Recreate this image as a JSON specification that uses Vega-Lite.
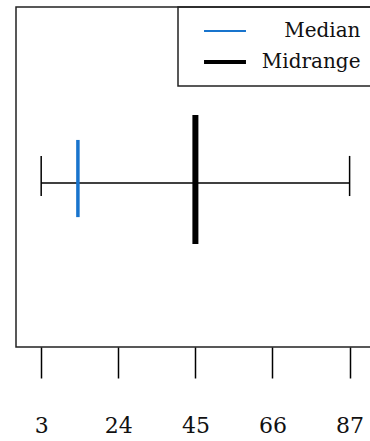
{
  "$schema": "https://vega.github.io/schema/vega-lite/v6.json",
  "width": 356,
  "height": 340,
  "autosize": {"type": "none"},
  "padding": {"left": 16, "top": 7, "right": -2, "bottom": 94},
  "background": "white",
  "config": {
    "view": {"stroke": "#222", "strokeWidth": 1.5},
    "font": "DejaVu Serif",
    "legend": {"strokeColor": "#222", "strokeWidth": 1.5}
  },
  "data": {"values": [{"Min": 3, "Max": 87, "Median": 13, "Midrange": 45}]},
  "layer": [
    {
      "mark": {"type": "rule", "color": "black", "strokeWidth": 1.5},
      "encoding": {
        "x": {
          "field": "Min", "type": "quantitative",
          "scale": {"domain": [-3.86, 93.1], "nice": false, "zero": false},
          "axis": {
            "values": [3, 24, 45, 66, 87], "title": null, "domain": false, "grid": false,
            "ticks": true, "tickSize": 31, "tickColor": "black", "tickWidth": 1.5,
            "labelFont": "DejaVu Serif", "labelFontSize": 22, "labelColor": "#111",
            "labelPadding": 37, "labelFlush": false, "labelOverlap": false, "labelBound": false
          }
        },
        "x2": {"field": "Max"},
        "y": {"datum": 0.482, "type": "quantitative", "scale": {"domain": [0, 1], "nice": false, "zero": false}, "axis": null}
      }
    },
    {
      "mark": {"type": "rule", "color": "black", "strokeWidth": 1.5},
      "encoding": {
        "x": {"field": "Min", "type": "quantitative"},
        "y": {"datum": 0.444, "type": "quantitative"},
        "y2": {"datum": 0.562}
      }
    },
    {
      "mark": {"type": "rule", "color": "black", "strokeWidth": 1.5},
      "encoding": {
        "x": {"field": "Max", "type": "quantitative"},
        "y": {"datum": 0.444, "type": "quantitative"},
        "y2": {"datum": 0.562}
      }
    },
    {
      "mark": {"type": "rule", "strokeWidth": 3.5},
      "encoding": {
        "x": {"field": "Median", "type": "quantitative"},
        "y": {"datum": 0.382, "type": "quantitative"},
        "y2": {"datum": 0.609},
        "color": {
          "datum": "Median", "type": "nominal",
          "scale": {"domain": ["Median", "Midrange"], "range": ["#1874CD", "black"]},
          "legend": {
            "title": null, "orient": "none", "legendX": 162, "legendY": 0,
            "padding": 14, "symbolType": "M-4,0H4", "symbolSize": 110,
            "symbolOffset": 23, "labelOffset": 125.5, "labelAlign": "right",
            "labelFont": "DejaVu Serif", "labelFontSize": 20, "labelColor": "#111",
            "rowPadding": 11, "labelLimit": 0,
            "encode": {
              "symbols": {"update": {"strokeWidth": {"signal": "datum.value === 'Median' ? 2 : 4"}}}
            }
          }
        }
      }
    },
    {
      "mark": {"type": "rule", "strokeWidth": 6},
      "encoding": {
        "x": {"field": "Midrange", "type": "quantitative"},
        "y": {"datum": 0.303, "type": "quantitative"},
        "y2": {"datum": 0.682},
        "color": {"datum": "Midrange", "type": "nominal"}
      }
    }
  ]
}
